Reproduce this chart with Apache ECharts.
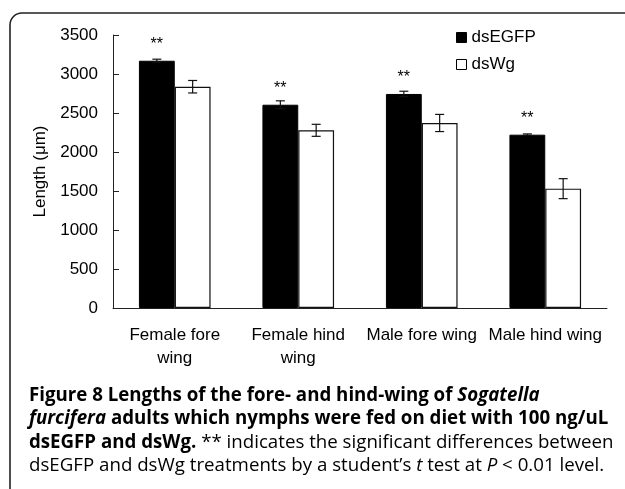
<!DOCTYPE html>
<html>
<head>
<meta charset="utf-8">
<script src="https://cdn.jsdelivr.net/npm/echarts@6/dist/echarts.min.js"></script>
<style>
  html, body { margin: 0; padding: 0; background: #fff; }
  #chart { width: 625px; height: 489px; }
</style>
</head>
<body>
<div id="chart"></div>
<script>
  // 数据
  const categories = ['Female fore\nwing', 'Female hind\nwing', 'Male fore wing', 'Male hind wing']
  const seriesNames = ['dsEGFP', 'dsWg']
  const egfpValues = [3170, 2606, 2744, 2222]
  const egfpErrors = [20, 50, 35, 10]
  const wgValues = [2837, 2278, 2372, 1530]
  const wgErrors = [80, 77, 110, 128]
  const sigMarks = ['**', '**', '**', '**']
  const yMin = 0
  const yMax = 3500
  const yStep = 500

  const chartFont = 'Liberation Sans'
  const captionFont = 'Open Sans'
  const captionSize = 18.7
  const barRatio = 0.29

  /** 误差线 */
  const errorBarSeries = (values, errors, side) => ({
    type: 'custom',
    silent: true,
    z: 10,
    encode: { x: 0, y: 1 },
    data: values.map((v, i) => [i, v, errors[i]]),
    renderItem: (params, api) => {
      const i = api.value(0)
      const v = api.value(1)
      const e = api.value(2)
      const bandW = api.size([1, 0])[0]
      const x = api.coord([i, 0])[0] + side * bandW * barRatio / 2
      const yTop = api.coord([i, v + e])[1]
      const yBot = api.coord([i, v - e])[1]
      const cap = 4.5
      const style = { stroke: '#111', lineWidth: 1.2 }
      return {
        type: 'group',
        children: [
          { type: 'line', shape: { x1: x, y1: yTop, x2: x, y2: yBot }, style },
          { type: 'line', shape: { x1: x - cap, y1: yTop, x2: x + cap, y2: yTop }, style },
          { type: 'line', shape: { x1: x - cap, y1: yBot, x2: x + cap, y2: yBot }, style }
        ]
      }
    }
  })

  const captionRich = {
    b: { fontFamily: captionFont, fontSize: captionSize, fontWeight: 'bold', color: '#000' },
    bi: { fontFamily: captionFont, fontSize: captionSize, fontWeight: 'bold', fontStyle: 'italic', color: '#000' },
    n: { fontFamily: captionFont, fontSize: captionSize, color: '#222' },
    i: { fontFamily: captionFont, fontSize: captionSize, fontStyle: 'italic', color: '#222' }
  }
  const captionLines = [
    '{b|Figure 8 Lengths of the fore- and hind-wing of }{bi|Sogatella}',
    '{bi|furcifera}{b| adults which nymphs were fed on diet with 100 ng/uL}',
    '{b|dsEGFP and dsWg.}{n| ** indicates the significant differences between}',
    '{n|dsEGFP and dsWg treatments by a student\u2019s }{i|t}{n| test at }{i|P}{n| < 0.01 level.}'
  ]
  const captionTop = 399
  const captionGap = 23.5

  const chartDom = echarts.init(document.getElementById('chart'))
  chartDom.setOption({
    animation: false,
    textStyle: { fontFamily: chartFont },
    grid: { left: 113, right: 18, top: 35, bottom: 181 },
    legend: {
      left: 451,
      top: 24,
      orient: 'vertical',
      itemWidth: 10,
      itemHeight: 10,
      itemGap: 10,
      icon: 'rect',
      textStyle: { fontFamily: chartFont, fontSize: 17, color: '#000' },
      data: [
        { name: seriesNames[0], itemStyle: { color: '#000', borderColor: '#000', borderWidth: 1 } },
        { name: seriesNames[1], itemStyle: { color: '#fff', borderColor: '#000', borderWidth: 1 } }
      ]
    },
    xAxis: {
      type: 'category',
      data: categories,
      axisLine: { lineStyle: { color: '#222', width: 1 } },
      axisTick: { inside: true, length: 5, lineStyle: { color: '#222' } },
      axisLabel: { color: '#000', fontSize: 17, lineHeight: 23, margin: 16, interval: 0 }
    },
    yAxis: {
      type: 'value',
      min: yMin,
      max: yMax,
      interval: yStep,
      name: 'Length (\u03bcm)',
      nameLocation: 'middle',
      nameGap: 56,
      nameTextStyle: { fontSize: 17, color: '#000' },
      splitLine: { show: false },
      axisLine: { show: true, lineStyle: { color: '#222', width: 1 } },
      axisTick: { show: true, inside: true, length: 6, lineStyle: { color: '#222' } },
      axisLabel: { color: '#000', fontSize: 17, margin: 15, formatter: (v) => String(v) }
    },
    series: [
      {
        name: seriesNames[0],
        type: 'bar',
        data: egfpValues,
        barWidth: barRatio * 100 + '%',
        barGap: '0%',
        itemStyle: { color: '#000', borderColor: '#000', borderWidth: 1 },
        label: {
          show: true,
          position: 'top',
          distance: 8,
          formatter: (p) => sigMarks[p.dataIndex],
          fontSize: 16,
          color: '#000'
        }
      },
      {
        name: seriesNames[1],
        type: 'bar',
        data: wgValues,
        barWidth: barRatio * 100 + '%',
        barGap: '0%',
        itemStyle: { color: '#fff', borderColor: '#111', borderWidth: 1.2 }
      },
      errorBarSeries(egfpValues, egfpErrors, -1),
      errorBarSeries(wgValues, wgErrors, 1)
    ],
    graphic: [
      {
        type: 'rect',
        silent: true,
        shape: { x: 10, y: 13, width: 700, height: 600, r: 12 },
        style: { fill: 'none', stroke: '#222', lineWidth: 1.6 }
      },
      ...captionLines.map((line, k) => ({
        type: 'text',
        left: 29,
        top: captionTop + k * captionGap - 13,
        style: { text: line, rich: captionRich, fontFamily: captionFont, fontSize: captionSize }
      }))
    ]
  })
</script>
</body>
</html>
